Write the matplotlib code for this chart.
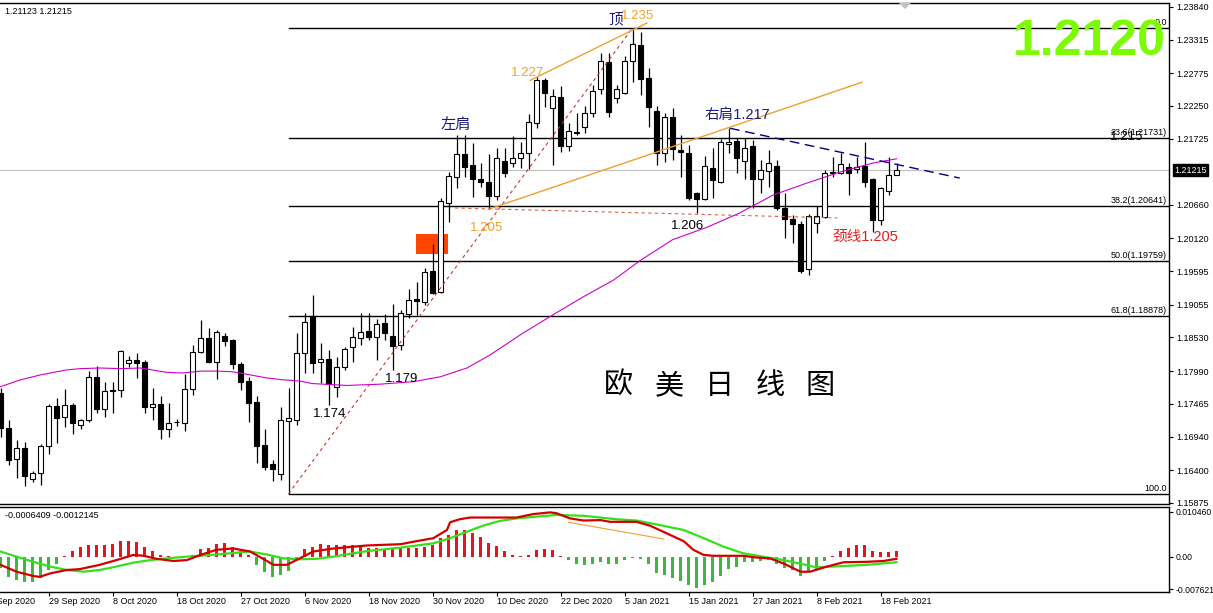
import matplotlib.pyplot as plt
import matplotlib.transforms as mtransforms
from matplotlib.patches import Rectangle, Polygon

plt.rcParams['font.family'] = ['Liberation Sans', 'Noto Sans CJK SC', 'DejaVu Sans']

# --- candles (EURUSD daily) ---
opens = [1.1764, 1.1708, 1.1658, 1.1676, 1.1626, 1.1635, 1.1679, 1.1743, 1.1725, 1.1745,
         1.1712, 1.1720, 1.1790, 1.1738, 1.1769, 1.1769, 1.1812, 1.1817, 1.1814, 1.1741,
         1.1746, 1.1706, 1.1717, 1.1716, 1.1770, 1.1830, 1.1852, 1.1814, 1.1855, 1.1849,
         1.1810, 1.1783, 1.1749, 1.1680, 1.1650, 1.1634, 1.1719, 1.1721, 1.1828, 1.1887,
         1.1814, 1.1818, 1.1773, 1.1806, 1.1838, 1.1852, 1.1863, 1.1854, 1.1876, 1.1855,
         1.1841, 1.1891, 1.1915, 1.1910, 1.1960, 1.1926, 1.2069, 1.2111, 1.2148, 1.2130,
         1.2108, 1.2103, 1.2080, 1.2137, 1.2133, 1.2142, 1.2150, 1.2198, 1.2267, 1.2222,
         1.2239, 1.2161, 1.2183, 1.2191, 1.2214, 1.2252, 1.2295, 1.2238, 1.2246, 1.2297,
         1.2323, 1.2270, 1.2217, 1.2150, 1.2207, 1.2154, 1.2150, 1.2085, 1.2075, 1.2125,
         1.2103, 1.2164, 1.2169, 1.2136, 1.2160, 1.2108, 1.2120, 1.2128, 1.2061, 1.2043,
         1.2035, 1.1963, 1.2037, 1.2046, 1.2117, 1.2117, 1.2127, 1.2124, 1.2128, 1.2108,
         1.2042, 1.2088, 1.2114]
highs = [1.1772, 1.1720, 1.1688, 1.1685, 1.1638, 1.1682, 1.1746, 1.1756, 1.1770, 1.1748,
         1.1722, 1.1799, 1.1807, 1.1782, 1.1782, 1.1833, 1.1823, 1.1828, 1.1817, 1.1772,
         1.1759, 1.1748, 1.1722, 1.1794, 1.1841, 1.1881, 1.1868, 1.1865, 1.1860, 1.1851,
         1.1814, 1.1790, 1.1759, 1.1706, 1.1656, 1.1741, 1.1772, 1.1860, 1.1892, 1.1921,
         1.1844, 1.1833, 1.1822, 1.1838, 1.1870, 1.1892, 1.1892, 1.1883, 1.1891, 1.1907,
         1.1897, 1.1931, 1.1942, 1.1965, 1.2003, 1.2077, 1.2119, 1.2178, 1.2178, 1.2165,
         1.2133, 1.2148, 1.2157, 1.2158, 1.2177, 1.2167, 1.2212, 1.2271, 1.2270, 1.2252,
         1.2257, 1.2198, 1.2214, 1.2225, 1.2259, 1.2310, 1.2310, 1.2259, 1.2305, 1.2350,
         1.2344, 1.2286, 1.2225, 1.2214, 1.2222, 1.2178, 1.2162, 1.2087, 1.2144, 1.2157,
         1.2172, 1.2189, 1.2173, 1.2173, 1.2170, 1.2138, 1.2154, 1.2138, 1.2085, 1.2050,
         1.2040, 1.2051, 1.2064, 1.2122, 1.2143, 1.2150, 1.2133, 1.2143, 1.2167, 1.2109,
         1.2095, 1.2143, 1.2133]
lows = [1.1693, 1.1648, 1.1627, 1.1614, 1.1621, 1.1616, 1.1666, 1.1684, 1.1709, 1.1698,
        1.1706, 1.1717, 1.1732, 1.1725, 1.1732, 1.1758, 1.1806, 1.1788, 1.1732, 1.1721,
        1.1690, 1.1693, 1.1711, 1.1703, 1.1761, 1.1828, 1.1812, 1.1786, 1.1839, 1.1802,
        1.1769, 1.1717, 1.1651, 1.1640, 1.1622, 1.1624, 1.1602, 1.1713, 1.1796, 1.1796,
        1.1780, 1.1745, 1.1757, 1.1801, 1.1814, 1.1841, 1.1849, 1.1817, 1.1849, 1.1801,
        1.1833, 1.1884, 1.1889, 1.1905, 1.1923, 1.1924, 1.2038, 1.2093, 1.2111, 1.2079,
        1.2095, 1.2059, 1.2074, 1.2111, 1.2127, 1.2125, 1.2124, 1.2189, 1.2223, 1.2130,
        1.2151, 1.2152, 1.2178, 1.2181, 1.2207, 1.2244, 1.2207, 1.2230, 1.2244, 1.2263,
        1.2242, 1.2191, 1.2130, 1.2135, 1.2138, 1.2111, 1.2074, 1.2053, 1.2074, 1.2077,
        1.2101, 1.2149, 1.2117, 1.2108, 1.2061, 1.2085, 1.2095, 1.2058, 1.2013, 1.2005,
        1.1957, 1.1953, 1.2021, 1.2045, 1.2111, 1.2116, 1.2082, 1.2117, 1.2095, 1.2022,
        1.2034, 1.2082, 1.2114]
closes = [1.1708, 1.1656, 1.1675, 1.1630, 1.1635, 1.1679, 1.1743, 1.1724, 1.1745, 1.1716,
          1.1720, 1.1790, 1.1738, 1.1767, 1.1767, 1.1831, 1.1817, 1.1812, 1.1741, 1.1746,
          1.1706, 1.1716, 1.1718, 1.1770, 1.1830, 1.1852, 1.1814, 1.1862, 1.1847, 1.1810,
          1.1782, 1.1748, 1.1679, 1.1645, 1.1642, 1.1721, 1.1724, 1.1828, 1.1878, 1.1812,
          1.1818, 1.1778, 1.1806, 1.1834, 1.1854, 1.1862, 1.1854, 1.1875, 1.1860, 1.1839,
          1.1892, 1.1913, 1.1912, 1.1958, 1.1924, 1.2072, 1.2112, 1.2148, 1.2127, 1.2108,
          1.2103, 1.2080, 1.2141, 1.2117, 1.2142, 1.2150, 1.2199, 1.2267, 1.2246, 1.2241,
          1.2161, 1.2185, 1.2181, 1.2214, 1.2249, 1.2297, 1.2215, 1.2252, 1.2297, 1.2324,
          1.2268, 1.2223, 1.2149, 1.2207, 1.2156, 1.2151, 1.2077, 1.2075, 1.2128, 1.2106,
          1.2167, 1.2167, 1.2141, 1.2157, 1.2108, 1.2122, 1.2133, 1.2061, 1.2043, 1.2035,
          1.1960, 1.2048, 1.2048, 1.2117, 1.2119, 1.2132, 1.2117, 1.2127, 1.2103, 1.2042,
          1.2093, 1.2114, 1.2122]

# moving average, read at sample bars
ma_idx = [0, 2.5, 5, 8.3, 10, 12.5, 15, 17.5, 20.8, 22.8, 25, 27, 29, 31.2, 33.3, 35.4, 37.4,
          39, 43.3, 47.4, 51.6, 55, 58.3, 61.2, 65.3, 69, 72.8, 76.6, 80, 84, 88.3, 92.4,
          96.6, 100.8, 105, 109, 112]
ma_val = [1.1774, 1.1785, 1.1793, 1.1801, 1.1803, 1.1804, 1.1803, 1.1804, 1.1797, 1.1796,
          1.1799, 1.1799, 1.1798, 1.1793, 1.1788, 1.1785, 1.1783, 1.1779, 1.1776, 1.1778,
          1.1782, 1.1790, 1.1804, 1.1825, 1.1860, 1.1889, 1.1918, 1.1945, 1.1977, 1.2010,
          1.2030, 1.2053, 1.2082, 1.2101, 1.2119, 1.2133, 1.2140]

# fibonacci retracement
fib_start = 36
fib_levels = [1.23496, 1.21731, 1.20641, 1.19759, 1.18878, 1.16022]
fib_labels = ["0.0", "23.6(1.21731)", "38.2(1.20641)", "50.0(1.19759)", "61.8(1.18878)", "100.0"]

last_price = 1.21215
price_ticks = [1.23840, 1.23315, 1.22775, 1.22250, 1.21725, 1.20660, 1.20120, 1.19595,
               1.19055, 1.18530, 1.17990, 1.17465, 1.16940, 1.16400, 1.15875]

# MACD
hist = [-0.0027, -0.00465, -0.0054, -0.0060, -0.0060, -0.0050, -0.0031, -0.0016, 0.0001, 0.0012,
        0.0023, 0.0026, 0.0027, 0.0027, 0.0029, 0.0036, 0.0036, 0.0033, 0.0023, 0.0012,
        0.0004, 0.0001, -0.0001, 0.0001, 0.0005, 0.0017, 0.0021, 0.0029, 0.0031, 0.0023,
        0.0012, 0.0005, -0.0019, -0.0035, -0.00465, -0.0043, -0.0033, -0.0008, 0.0017, 0.0023,
        0.0029, 0.0027, 0.0027, 0.0026, 0.0026, 0.0023, 0.0021, 0.0019, 0.0016, 0.0018,
        0.0019, 0.0021, 0.0021, 0.0023, 0.0027, 0.0043, 0.0050, 0.0062, 0.0062, 0.0054,
        0.0045, 0.0031, 0.0025, 0.0013, 0.0005, 0.0002, 0.0004, 0.0016, 0.0018, 0.0016,
        0.0001, -0.0008, -0.0018, -0.0019, -0.0018, -0.0012, -0.0016, -0.0016, -0.0008, -0.0002,
        -0.0006, -0.0018, -0.0037, -0.0043, -0.0049, -0.0056, -0.0067, -0.0074, -0.0066, -0.0060,
        -0.0044, -0.0029, -0.0023, -0.0013, -0.0013, -0.0010, -0.0008, -0.0016, -0.0027, -0.0031,
        -0.0044, -0.0035, -0.0029, -0.0010, 0.0002, 0.0012, 0.0019, 0.0026, 0.0026, 0.0013,
        0.0010, 0.0010, 0.0012]
macd_idx = [0, 2, 4.1, 4.9, 6.2, 8.3, 9.9, 12.4, 14.5, 16.6, 17.9, 19.5, 21.6, 23.3, 25, 27,
            29.1, 31.2, 33.3, 34.1, 35.8, 37.4, 39.1, 41.6, 45.8, 50, 52, 54.1, 55.8, 56.2,
            57.4, 58.7, 60.3, 64.5, 66.6, 68.7, 69.5, 71.2, 72.9, 75, 76.2, 79.5, 81.2, 83.3,
            85.4, 86.6, 87.9, 89.1, 92.8, 94.5, 96.2, 97.9, 100, 101.2, 103.3, 105.4, 108.3,
            110.4, 112]
macd_val = [-0.0019, -0.0035, -0.0045, -0.0047, -0.0039, -0.0031, -0.0029, -0.0019, -0.0008, 0.0004,
            0.0002, -0.0005, -0.0010, -0.0008, 0.0004, 0.0016, 0.0019, 0.0012, -0.0010, -0.0019,
            -0.0019, -0.0004, 0.0012, 0.0019, 0.0026, 0.0029, 0.0036, 0.0043, 0.0062, 0.0080,
            0.0087, 0.0091, 0.0091, 0.0091, 0.0099, 0.0103, 0.0101, 0.0089, 0.0084, 0.0085,
            0.0081, 0.0081, 0.0072, 0.0054, 0.0036, 0.0016, 0.0004, 0.0002, 0.0002, -0.0002,
            -0.0004, -0.0016, -0.0035, -0.0035, -0.0023, -0.0013, -0.0012, -0.0010, -0.0005]
sig_idx = [0, 2, 4.1, 6.2, 8.3, 10.4, 12.4, 14.5, 16.6, 18.7, 20.8, 23.3, 27, 31.2, 33.3, 35.4,
           37.4, 39.5, 41.6, 45.8, 50, 54.1, 56.2, 58.3, 60.3, 62.4, 64.5, 67, 69.5, 72.9, 77,
           79.5, 82, 85.4, 87.9, 90.4, 92.8, 95.3, 97.9, 100.4, 102, 104.1, 108.3, 112]
sig_val = [0.0012, 0.0, -0.0012, -0.0023, -0.0031, -0.0035, -0.0031, -0.0023, -0.0014, -0.0008,
           -0.0004, 0.0, 0.0005, 0.0012, 0.0005, -0.0004, -0.0006, -0.0005, 0.0, 0.0013,
           0.0021, 0.0031, 0.0043, 0.0058, 0.0072, 0.0083, 0.0089, 0.0093, 0.0097, 0.0095,
           0.0087, 0.0084, 0.0075, 0.0062, 0.0043, 0.0023, 0.0008, 0.0, -0.0008, -0.0018,
           -0.0025, -0.0023, -0.0019, -0.0013]

date_idx = [-2, 6, 14, 22, 30, 38, 46, 54, 62, 70, 78, 86, 94, 102, 110]
date_labels = ["20 Sep 2020", "29 Sep 2020", "8 Oct 2020", "18 Oct 2020", "27 Oct 2020",
               "6 Nov 2020", "18 Nov 2020", "30 Nov 2020", "10 Dec 2020", "22 Dec 2020",
               "5 Jan 2021", "15 Jan 2021", "27 Jan 2021", "8 Feb 2021", "18 Feb 2021"]

W, H = 1213, 613
fig = plt.figure(figsize=(W / 100, H / 100), dpi=100)
fig.patch.set_facecolor('white')

ax = fig.add_axes([0, 1 - 504 / H, 1169 / W, 501 / H])
ax2 = fig.add_axes([0, 1 - 592 / H, 1169 / W, 85 / H])

n = len(closes)
xs = list(range(n))
ax.set_xlim(-0.0625, 146.06)
ax2.set_xlim(-0.0625, 146.06)
ax.set_ylim(1.15856, 1.23902)
ax2.set_ylim(-0.00822, 0.01155)

# --- candles ---
ax.vlines(xs, lows, highs, color='black', lw=0.9, zorder=3)
for i in range(n):
    o, c = opens[i], closes[i]
    bottom = min(o, c)
    height = max(abs(c - o), 0.00004)
    face = 'white' if c >= o else 'black'
    ax.bar(i, height, 0.6, bottom=bottom, facecolor=face, edgecolor='black', lw=0.8, zorder=4)

ax.plot(ma_idx, ma_val, color='#CC00CC', lw=0.8, zorder=5)

# fib lines
for lvl, lab in zip(fib_levels, fib_labels):
    ax.plot([fib_start, 146.06], [lvl, lvl], color='black', lw=1.0, zorder=2)
    ax.text(145.8, lvl + 0.00015, lab, ha='right', va='bottom', fontsize=6.5, zorder=6)
ax.text(138.7, 1.21750, "1.215", ha='left', va='center', fontsize=9.5, zorder=6)

ax.axhline(last_price, color='#C0C0C0', lw=0.8, zorder=1)

# drawn objects
ax.add_patch(Rectangle((51.9, 1.1987), 4.0, 0.0032, facecolor='#FF4500', edgecolor='none', zorder=1))
ax.plot([36, 79], [1.1602, 1.2350], color='#CC3333', lw=0.8, ls=(0, (3, 3)), zorder=6)
ax.plot([61, 107.7], [1.2059, 1.2263], color='#F0A030', lw=1.0, zorder=6)
ax.plot([66.2, 80.8], [1.2266, 1.2358], color='#F0A030', lw=1.0, zorder=6)
ax.plot([56.8, 104.6], [1.2061, 1.2045], color='#E06040', lw=0.8, ls=(0, (3, 3)), zorder=6)
ax.plot([91.2, 119.9], [1.2189, 1.2109], color='#000080', lw=1.0, ls=(0, (7, 4)), zorder=6)

# annotations
navy = '#1A1A80'
orange = '#F0A030'
ax.text(76.9, 1.23645, "顶", color=navy, fontsize=10.5, ha='center', va='center', zorder=7)
ax.text(79.6, 1.23693, "1.235", color=orange, fontsize=9.5, ha='center', va='center', zorder=7)
ax.text(65.9, 1.22778, "1.227", color=orange, fontsize=9.5, ha='center', va='center', zorder=7)
ax.text(56.9, 1.21943, "左肩", color=navy, fontsize=11, ha='center', va='center', zorder=7)
ax.text(92.1, 1.22103, "右肩1.217", color=navy, fontsize=10.5, ha='center', va='center', zorder=7)
ax.text(60.8, 1.20288, "1.205", color=orange, fontsize=9.5, ha='center', va='center', zorder=7)
ax.text(85.9, 1.20320, "1.206", color='black', fontsize=9.5, ha='center', va='center', zorder=7)
ax.text(108.1, 1.20144, "颈线1.205", color='#E02020', fontsize=10.5, ha='center', va='center', zorder=7)
ax.text(50.2, 1.17863, "1.179", color='black', fontsize=9.5, ha='center', va='center', zorder=7)
ax.text(41.1, 1.17301, "1.174", color='black', fontsize=9.5, ha='center', va='center', zorder=7)

title_chars = ["欧", "美", "日", "线", "图"]
for k, ch in enumerate(title_chars):
    ax.text(77.3 + 6.3 * k, 1.1775, ch, fontsize=21, ha='center', va='center',
            family=['Noto Sans CJK SC'], zorder=7)

ax.text(145.7, 1.23067, "1.2120", color='#7CFC00', fontsize=36, fontweight='bold',
        ha='right', va='baseline', zorder=8)

# axes styling
for a in (ax, ax2):
    a.spines['left'].set_visible(False)
    for s in ('top', 'bottom', 'right'):
        a.spines[s].set_linewidth(1.0)
    a.yaxis.tick_right()
    a.tick_params(axis='y', direction='out', length=3, width=0.8, pad=2, labelsize=6.5)

ax.set_xticks([])
ax.set_yticks(price_ticks)
ax.set_yticklabels([f"{t:.5f}" for t in price_ticks])
ax.annotate(f"{last_price:.5f}", xy=(1.0, last_price), xycoords=('axes fraction', 'data'),
            xytext=(4, 0), textcoords='offset points', ha='left', va='center', fontsize=6.5,
            color='white', bbox=dict(boxstyle='square,pad=0.15', fc='black', ec='black'))

# MACD pane
hcolors = ['#E8141C' if h >= 0 else '#3CB83C' for h in hist]
ax2.bar(xs, hist, 0.4, color=hcolors, zorder=2)
ax2.plot(sig_idx, sig_val, color='#33E01A', lw=1.6, zorder=3)
ax2.plot(macd_idx, macd_val, color='#D40000', lw=1.6, zorder=4)
ax2.plot([71, 82.9], [0.0080, 0.0041], color='#F0A030', lw=0.8, zorder=5)
ax2.set_yticks([0.010460, 0.0, -0.007621])
ax2.set_yticklabels(["0.010460", "0.00", "-0.007621"])
ax2.tick_params(axis='y', labelsize=6.2)

# date axis: tick marks and left-aligned labels starting at the tick
ax2.set_xticks([d for d in date_idx if d >= 0])
ax2.set_xticklabels([])
ax2.tick_params(axis='x', direction='out', length=3, width=0.8)
date_tr = mtransforms.blended_transform_factory(ax2.transData, fig.transFigure)
for d, lab in zip(date_idx, date_labels):
    ax2.text(d, 1 - 601 / H, lab, transform=date_tr, ha='left', va='center',
             fontsize=6.5, clip_on=False)

ax2.text(0.004, 0.90, "-0.0006409 -0.0012145", transform=ax2.transAxes, fontsize=6.5,
         ha='left', va='center')

fig.text(5 / W, 1 - 12 / H, "1.21123 1.21215", fontsize=6.5, ha='left', va='center')
fig.patches.append(Polygon([[899 / W, 1 - 3 / H], [911 / W, 1 - 3 / H], [905 / W, 1 - 9 / H]],
                           closed=True, transform=fig.transFigure, facecolor='#C0C0C0',
                           edgecolor='none'))

fig.savefig('out.png', dpi=100)
